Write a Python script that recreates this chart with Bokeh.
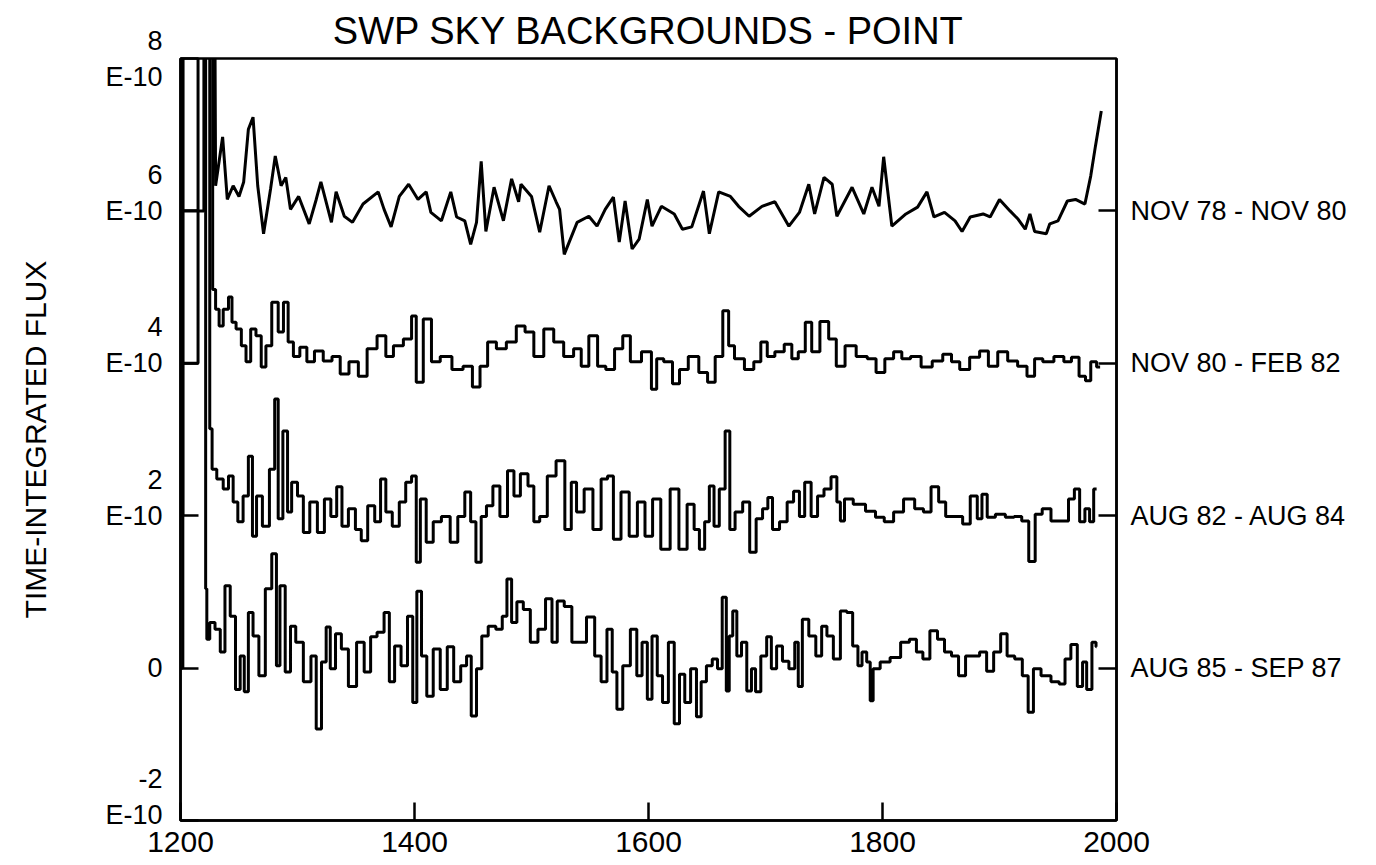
from bokeh.plotting import figure
from bokeh.models import LinearAxis, FixedTicker, Range1d
from bokeh.embed import file_html
from bokeh.resources import INLINE

FONT = "Liberation Sans"

# ---- data: (wavelength [A], time-integrated flux [1e-10]) ----
# values above 8 are off-scale (clipped at the top of the frame in the original)
nov78_nov80 = [
    (1200, 6.0), (1220, 6.0), (1220, 10.0), (1229, 10.0),
    (1230, 6.33), (1236, 6.97), (1240, 6.15), (1245, 6.33), (1250, 6.19), (1254, 6.38),
    (1258, 7.07), (1262, 7.23), (1266, 6.33), (1271, 5.70), (1277, 6.29), (1281, 6.72),
    (1286, 6.33), (1290, 6.44), (1294, 6.02), (1301, 6.19), (1310, 5.83), (1316, 6.15),
    (1320, 6.38), (1329, 5.85), (1333, 6.25), (1340, 5.93), (1347, 5.85), (1356, 6.09),
    (1369, 6.25), (1374, 6.02), (1380, 5.79), (1387, 6.19), (1395, 6.35), (1403, 6.15),
    (1410, 6.25), (1414, 5.98), (1423, 5.87), (1431, 6.25), (1436, 5.92), (1443, 5.87),
    (1448, 5.56), (1453, 5.85), (1457, 6.65), (1461, 5.73), (1468, 6.31), (1476, 5.87),
    (1483, 6.42), (1489, 6.12), (1491, 6.35), (1500, 6.19), (1507, 5.72), (1515, 6.33),
    (1521, 6.12), (1524, 6.02), (1528, 5.43), (1539, 5.85), (1549, 5.93), (1556, 5.80),
    (1563, 6.02), (1570, 6.18), (1575, 5.59), (1580, 6.13), (1586, 5.50), (1592, 5.63),
    (1599, 6.15), (1603, 5.80), (1611, 6.06), (1622, 5.96), (1629, 5.76), (1637, 5.79),
    (1647, 6.26), (1652, 5.70), (1660, 6.25), (1670, 6.19), (1677, 6.06), (1686, 5.93),
    (1697, 6.06), (1708, 6.12), (1720, 5.80), (1729, 5.98), (1737, 6.35), (1742, 5.96),
    (1750, 6.44), (1757, 6.35), (1761, 5.93), (1774, 6.31), (1784, 5.96), (1791, 6.31),
    (1797, 6.06), (1801, 6.71), (1806, 6.06), (1808, 5.80), (1820, 5.96), (1830, 6.05),
    (1838, 6.25), (1844, 5.92), (1853, 5.98), (1862, 5.87), (1868, 5.73), (1875, 5.92),
    (1886, 5.96), (1892, 5.92), (1900, 6.15), (1909, 6.00), (1916, 5.89), (1922, 5.76),
    (1926, 5.96), (1930, 5.73), (1940, 5.70), (1943, 5.83), (1950, 5.87), (1958, 6.13),
    (1965, 6.15), (1973, 6.09), (1978, 6.46), (1982, 6.85), (1987, 7.31),
]

nov80_feb82 = [
    (1200, 4.0), (1215, 4.0), (1215, 10.0), (1227, 10.0),
    (1228, 4.97), (1232, 4.71), (1234, 4.49), (1239, 4.71), (1243, 4.87), (1245, 4.54),
    (1250, 4.45), (1254, 4.23), (1258, 4.02), (1262, 4.45), (1267, 4.36), (1271, 3.95),
    (1275, 4.23), (1281, 4.80), (1286, 4.41), (1290, 4.80), (1294, 4.28), (1299, 4.09),
    (1305, 4.21), (1311, 4.02), (1318, 4.16), (1326, 4.03), (1333, 4.09), (1340, 3.86),
    (1348, 4.02), (1356, 3.83), (1363, 4.19), (1373, 4.36), (1378, 4.09), (1386, 4.23),
    (1395, 4.32), (1400, 4.62), (1403, 3.75), (1412, 4.58), (1417, 4.02), (1427, 4.09),
    (1437, 3.92), (1446, 3.96), (1453, 3.69), (1459, 3.96), (1466, 4.28), (1474, 4.19),
    (1483, 4.28), (1491, 4.49), (1498, 4.41), (1506, 4.09), (1515, 4.45), (1523, 4.28),
    (1532, 4.09), (1540, 4.19), (1545, 3.96), (1553, 4.36), (1560, 3.96), (1567, 3.92),
    (1575, 4.19), (1581, 4.36), (1588, 4.02), (1600, 4.15), (1605, 3.66), (1609, 4.06),
    (1617, 4.02), (1624, 3.73), (1629, 3.92), (1639, 4.09), (1647, 3.88), (1654, 3.75),
    (1660, 4.09), (1667, 4.69), (1670, 4.23), (1677, 4.06), (1687, 3.92), (1693, 4.02),
    (1699, 4.28), (1704, 4.09), (1712, 4.15), (1720, 4.25), (1725, 4.06), (1731, 4.15),
    (1737, 4.54), (1742, 4.15), (1751, 4.55), (1757, 4.32), (1764, 3.96), (1772, 4.23),
    (1783, 4.09), (1791, 4.06), (1798, 3.88), (1806, 4.06), (1813, 4.15), (1820, 4.06),
    (1828, 4.09), (1838, 3.95), (1847, 4.03), (1856, 4.12), (1862, 4.02), (1870, 3.92),
    (1879, 4.08), (1887, 4.16), (1894, 3.96), (1903, 4.15), (1911, 4.03), (1920, 3.96),
    (1927, 3.83), (1933, 4.06), (1941, 4.02), (1952, 4.09), (1958, 4.02), (1965, 4.08),
    (1971, 3.83), (1976, 3.77), (1980, 4.02), (1986, 3.95),
]

aug82_aug84 = [
    (1200, 2.0), (1202, 2.0), (1202, 10.0), (1224, 10.0),
    (1226, 3.14), (1228, 2.61), (1234, 2.48), (1239, 2.35), (1243, 2.52), (1247, 2.18),
    (1251, 1.92), (1256, 2.26), (1260, 2.78), (1263, 1.73), (1267, 2.26), (1273, 1.86),
    (1279, 2.61), (1282, 3.53), (1285, 1.96), (1290, 3.11), (1293, 2.05), (1297, 2.44),
    (1303, 2.26), (1307, 1.78), (1314, 2.18), (1320, 1.78), (1326, 2.22), (1331, 1.99),
    (1336, 2.38), (1340, 1.86), (1347, 2.09), (1352, 1.82), (1357, 1.67), (1363, 2.13),
    (1369, 1.92), (1373, 2.48), (1378, 2.05), (1384, 1.86), (1390, 2.18), (1395, 2.44),
    (1400, 2.52), (1403, 1.39), (1407, 2.22), (1413, 1.65), (1419, 1.92), (1427, 1.99),
    (1434, 1.65), (1440, 1.99), (1446, 2.31), (1450, 1.92), (1455, 1.39), (1459, 1.99),
    (1464, 2.13), (1470, 2.39), (1476, 1.99), (1483, 2.59), (1487, 2.26), (1494, 2.55),
    (1500, 2.39), (1504, 1.92), (1510, 1.99), (1517, 2.52), (1525, 2.72), (1532, 1.82),
    (1536, 2.44), (1541, 2.05), (1549, 2.35), (1556, 1.82), (1563, 2.48), (1567, 2.52),
    (1573, 1.69), (1580, 2.31), (1587, 1.73), (1594, 2.18), (1600, 1.73), (1607, 2.22),
    (1614, 1.56), (1623, 2.35), (1629, 1.56), (1637, 2.15), (1641, 1.82), (1646, 1.56),
    (1650, 1.92), (1654, 2.39), (1658, 1.86), (1663, 2.35), (1668, 3.11), (1671, 1.82),
    (1677, 2.05), (1684, 2.18), (1689, 1.52), (1695, 1.96), (1700, 2.09), (1704, 2.24),
    (1708, 1.82), (1716, 1.92), (1721, 2.18), (1727, 2.32), (1731, 1.99), (1736, 2.44),
    (1742, 1.99), (1747, 2.26), (1753, 2.35), (1759, 2.51), (1763, 2.18), (1765, 1.93),
    (1770, 2.22), (1780, 2.15), (1791, 2.06), (1797, 1.98), (1806, 1.92), (1813, 2.05),
    (1823, 2.22), (1832, 2.09), (1838, 2.05), (1845, 2.38), (1851, 2.18), (1857, 1.99),
    (1866, 1.99), (1871, 1.89), (1879, 2.26), (1883, 1.96), (1887, 2.28), (1892, 1.98),
    (1901, 2.02), (1909, 1.98), (1916, 1.99), (1922, 1.93), (1928, 1.40), (1933, 2.02),
    (1940, 2.09), (1948, 1.93), (1957, 1.93), (1961, 2.22), (1967, 2.35), (1970, 1.92),
    (1976, 2.09), (1978, 1.92), (1983, 2.35),
]

aug85_sep87 = [
    (1200, 0.0), (1202, 0.0), (1202, 10.0), (1221, 10.0),
    (1222, 1.04), (1223, 0.38), (1227, 0.60), (1232, 0.51), (1236, 0.21), (1240, 1.08),
    (1245, 0.68), (1249, -0.28), (1253, 0.16), (1256, -0.31), (1260, 0.73), (1264, 0.42),
    (1270, -0.10), (1275, 1.04), (1281, 1.50), (1283, 0.03), (1287, 1.08), (1292, -0.05),
    (1296, 0.55), (1301, 0.34), (1309, -0.18), (1314, 0.16), (1318, -0.80), (1323, 0.08),
    (1326, 0.54), (1330, -0.01), (1335, 0.45), (1340, 0.25), (1347, -0.24), (1354, 0.34),
    (1360, -0.05), (1365, 0.41), (1371, 0.47), (1377, 0.73), (1380, -0.18), (1386, 0.29),
    (1391, 0.03), (1397, 0.68), (1400, -0.45), (1404, 1.01), (1408, 0.16), (1413, -0.37),
    (1419, 0.25), (1425, -0.28), (1431, 0.28), (1436, -0.18), (1443, 0.03), (1446, 0.16),
    (1451, -0.63), (1455, -0.01), (1460, 0.42), (1466, 0.55), (1473, 0.51), (1477, 0.68),
    (1481, 1.17), (1485, 0.60), (1490, 0.87), (1496, 0.77), (1502, 0.34), (1509, 0.51),
    (1515, 0.91), (1520, 0.34), (1524, 0.88), (1532, 0.81), (1537, 0.34), (1543, 0.34),
    (1551, 0.67), (1557, 0.16), (1562, -0.18), (1567, 0.51), (1571, -0.05), (1575, -0.54),
    (1581, 0.03), (1588, 0.51), (1592, -0.10), (1597, 0.34), (1601, -0.41), (1605, 0.42),
    (1610, -0.10), (1614, -0.45), (1620, 0.34), (1624, -0.73), (1629, -0.08), (1633, -0.45),
    (1639, -0.01), (1643, -0.64), (1647, -0.18), (1652, 0.03), (1657, 0.12), (1661, -0.01),
    (1665, 0.93), (1668, -0.30), (1670, 0.42), (1674, 0.75), (1677, 0.16), (1682, 0.34),
    (1686, -0.30), (1690, -0.01), (1693, -0.31), (1699, 0.16), (1703, 0.41), (1707, -0.01),
    (1712, 0.29), (1717, 0.09), (1723, -0.01), (1727, 0.34), (1729, -0.24), (1734, 0.64),
    (1740, 0.42), (1746, 0.16), (1750, 0.55), (1755, 0.42), (1761, 0.12), (1767, 0.75),
    (1772, 0.73), (1777, 0.29), (1781, 0.03), (1784, 0.21), (1789, 0.08), (1790, -0.43),
    (1794, -0.01), (1802, 0.08), (1811, 0.14), (1820, 0.34), (1826, 0.38), (1832, 0.21),
    (1837, 0.12), (1844, 0.49), (1850, 0.38), (1856, 0.21), (1862, 0.16), (1868, -0.10),
    (1874, 0.16), (1880, 0.16), (1886, 0.21), (1892, -0.04), (1898, 0.21), (1904, 0.45),
    (1909, 0.16), (1917, 0.12), (1922, -0.10), (1927, -0.58), (1931, -0.01), (1940, -0.10),
    (1948, -0.18), (1954, -0.21), (1958, 0.12), (1964, 0.31), (1969, -0.24), (1973, 0.08),
    (1976, -0.28), (1982, 0.34), (1983, 0.28),
]

series = [nov78_nov80, nov80_feb82, aug82_aug84, aug85_sep87]
series_labels = ["NOV 78 - NOV 80", "NOV 80 - FEB 82", "AUG 82 - AUG 84", "AUG 85 - SEP 87"]
series_baselines = [6, 4, 2, 0]
series_stepped = [False, True, True, True]

x_ticks = [1200, 1400, 1600, 1800, 2000]
y_ticks = [8, 6, 4, 2, 0, -2]
y_tick_labels = ["8\nE-10", "6\nE-10\n ", "4\nE-10\n ", "2\nE-10\n ", "0", "-2\nE-10\n "]

title_text = "SWP SKY BACKGROUNDS - POINT"
y_title = "TIME-INTEGRATED FLUX"

# ---- figure ----
p = figure(width=1376, height=865, x_range=Range1d(1200, 2000), y_range=Range1d(-2, 8),
           output_backend="svg", toolbar_location=None,
           min_border_left=180, min_border_right=260, min_border_top=58, min_border_bottom=45)
p.xgrid.visible = False
p.ygrid.visible = False
p.outline_line_color = "black"
p.outline_line_width = 2.5
p.outline_line_alpha = 1.0
p.background_fill_color = "white"
p.border_fill_color = "white"

p.title.text = title_text
p.title.align = "center"
p.title.text_font = FONT
p.title.text_font_size = "38px"
p.title.text_font_style = "normal"
p.title.text_color = "black"
p.title.standoff = 13
p.title.offset = -6

for s, stepped in zip(series, series_stepped):
    xs = [a for a, b in s]
    ys = [b for a, b in s]
    if stepped:
        p.step(xs, ys, mode="center", line_color="black", line_width=3.0)
    else:
        p.line(xs, ys, line_color="black", line_width=3.0)

# bottom axis
xa = p.xaxis[0]
xa.ticker = FixedTicker(ticks=x_ticks)
xa.major_tick_in = 18
xa.major_tick_out = 0
xa.minor_tick_line_color = None
xa.axis_line_width = 2.5
xa.major_tick_line_width = 2.5
xa.major_label_text_font = FONT
xa.major_label_text_font_size = "30px"
xa.major_label_text_color = "black"
xa.major_label_standoff = 11

# left axis with two-line labels
ya = p.yaxis[0]
ya.ticker = FixedTicker(ticks=y_ticks)
ya.major_label_overrides = {v: t for v, t in zip(y_ticks, y_tick_labels)}
ya.major_tick_in = 18
ya.major_tick_out = 0
ya.minor_tick_line_color = None
ya.axis_line_width = 2.5
ya.major_tick_line_width = 2.5
ya.major_label_text_font = FONT
ya.major_label_text_font_size = "27px"
ya.major_label_text_color = "black"
ya.major_label_standoff = 18
ya.axis_label = y_title
ya.axis_label_text_font = FONT
ya.axis_label_text_font_size = "30px"
ya.axis_label_text_font_style = "normal"
ya.axis_label_text_color = "black"
ya.axis_label_standoff = 50

# right axis with period labels
ra = LinearAxis(ticker=FixedTicker(ticks=series_baselines),
                major_label_overrides={b: t for b, t in zip(series_baselines, series_labels)})
ra.major_tick_in = 18
ra.major_tick_out = 0
ra.minor_tick_line_color = None
ra.axis_line_width = 2.5
ra.major_tick_line_width = 2.5
ra.major_label_text_font = FONT
ra.major_label_text_font_size = "27px"
ra.major_label_text_color = "black"
ra.major_label_standoff = 14
p.add_layout(ra, "right")

open("out.html", "w").write(file_html(p, INLINE))
